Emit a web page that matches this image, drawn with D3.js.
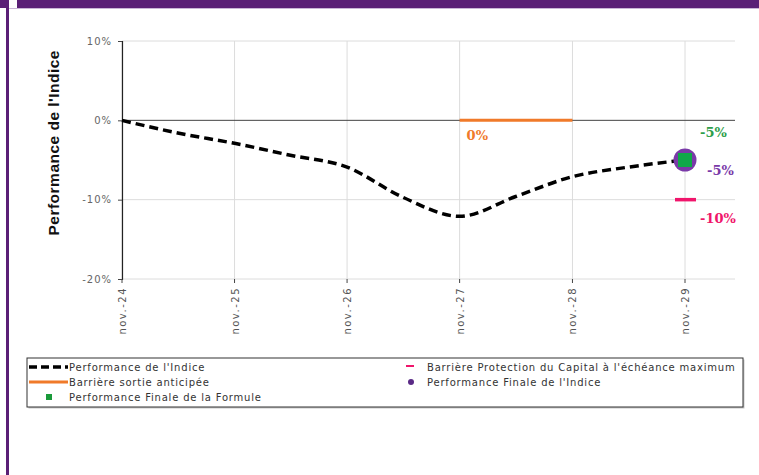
<!DOCTYPE html>
<html><head><meta charset="utf-8">
<script src="https://cdn.jsdelivr.net/npm/d3@7"></script>
<style>
html,body{margin:0;padding:0;background:#fff;}
svg{display:block;}
</style></head>
<body>
<svg id="c" width="759" height="475"></svg>
<script>
// ---- data ----
const indexDates = ["2024-11","2025-05","2025-11","2026-05","2026-11","2027-05","2027-11","2028-05","2028-11","2029-05","2029-11"];
const indexValues = [0, -1.6, -2.9, -4.4, -5.9, -9.7, -12.1, -9.6, -7.1, -5.9, -5.0];
const barrierDates = ["2027-11","2028-11"];
const barrierValues = [0, 0];
const protectionDate = "2029-11";
const protectionValue = -10;
const finalIndexValue = -5;
const finalFormulaValue = -5;
const yTicks = [10, 0, -10, -20];
const xTickLabels = ["nov.-24","nov.-25","nov.-26","nov.-27","nov.-28","nov.-29"];
const xTickDates = ["2024-11","2025-11","2026-11","2027-11","2028-11","2029-11"];
const legendItems = ["Performance de l'Indice","Barrière Protection du Capital à l'échéance maximum","Barrière sortie anticipée","Performance Finale de l'Indice","Performance Finale de la Formule"];

const parse = d3.timeParse("%Y-%m");
const svg = d3.select("#c");
const font = "'DejaVu Sans', Verdana, sans-serif";

// frame
svg.append("rect").attr("x",0).attr("y",0).attr("width",759).attr("height",8).attr("fill","#5a1f76");
svg.append("rect").attr("x",6).attr("y",0).attr("width",3).attr("height",475).attr("fill","#5a1f76");
svg.append("rect").attr("x",9).attr("y",0).attr("width",8).attr("height",8).attr("fill","#fff");
svg.append("rect").attr("x",9).attr("y",8).attr("width",750).attr("height",1).attr("fill","#c9b5d6");

const x = d3.scaleTime().domain([parse("2024-11"), parse("2029-11")]).range([122, 685]);
const y = d3.scaleLinear().domain([-20, 10]).range([279, 41]);
const plotRight = 735;

// gridlines
const g = svg.append("g");
g.selectAll(".vg").data(xTickDates).join("line")
  .attr("x1", d=>x(parse(d))).attr("x2", d=>x(parse(d)))
  .attr("y1", y(10)).attr("y2", y(-20))
  .attr("stroke","#dcdcdc").attr("stroke-width",1);
g.selectAll(".hg").data(yTicks.filter(d=>d!==0)).join("line")
  .attr("x1",122).attr("x2",plotRight)
  .attr("y1", d=>y(d)).attr("y2", d=>y(d))
  .attr("stroke","#dcdcdc").attr("stroke-width",1);
// zero line
g.append("line").attr("x1",122).attr("x2",plotRight).attr("y1",y(0)).attr("y2",y(0))
  .attr("stroke","#444").attr("stroke-width",1);

// y axis
const yAxis = d3.axisLeft(y).tickValues(yTicks).tickSize(4).tickFormat(d=>d+"%");
const ya = svg.append("g").attr("transform","translate(122,0)").call(yAxis);
ya.select(".domain").attr("stroke","#222").attr("stroke-width",1.2);
ya.selectAll(".tick line").attr("stroke","#444");
ya.selectAll(".tick text").attr("font-family",font).attr("font-size",10).attr("letter-spacing","1px")
  .attr("fill","#666").attr("x",-10);

// x axis labels
const xa = svg.append("g").attr("transform","translate(0,279)");
xa.selectAll("line").data(xTickDates).join("line")
  .attr("x1", d=>x(parse(d))).attr("x2", d=>x(parse(d))).attr("y1",0).attr("y2",4)
  .attr("stroke","#444");
xa.selectAll("text").data(xTickDates).join("text")
  .attr("transform", d=>`translate(${x(parse(d))+4},8) rotate(-90)`)
  .attr("text-anchor","end")
  .attr("font-family",font).attr("font-size",10).attr("letter-spacing","1.5px").attr("fill","#555")
  .text((d,i)=>xTickLabels[i]);

// y title
svg.append("text").attr("transform","translate(59,143) rotate(-90)")
  .attr("text-anchor","middle").attr("font-family","'Liberation Sans', Arial, sans-serif")
  .attr("font-weight","bold").attr("font-size",15.5).attr("fill","#111")
  .attr("textLength",185).attr("lengthAdjust","spacing")
  .text("Performance de l'Indice");

// barrier sortie anticipée
const line = d3.line().x(d=>x(d[0])).y(d=>y(d[1]));
svg.append("path").datum(barrierDates.map((d,i)=>[parse(d),barrierValues[i]]))
  .attr("d",line).attr("stroke","#f07a2a").attr("stroke-width",3).attr("fill","none");
svg.append("text").attr("x",x(parse(barrierDates[0]))+7).attr("y",y(0)+20)
  .attr("font-family","'DejaVu Serif', serif").attr("font-weight","bold").attr("font-size",13)
  .attr("fill","#f07a2a").text(barrierValues[0]+"%");

// index curve
const curve = d3.line().x(d=>x(d[0])).y(d=>y(d[1])).curve(d3.curveMonotoneX);
svg.append("path").datum(indexDates.map((d,i)=>[parse(d),indexValues[i]]))
  .attr("d",curve).attr("stroke","#000").attr("stroke-width",3.5)
  .attr("stroke-dasharray","9,5").attr("fill","none");

// protection barrier
const px = x(parse(protectionDate));
svg.append("line").attr("x1",px-10).attr("x2",px+11).attr("y1",y(protectionValue)).attr("y2",y(protectionValue))
  .attr("stroke","#f0156b").attr("stroke-width",3.5);
svg.append("text").attr("x",px+15).attr("y",y(protectionValue)+23)
  .attr("font-family","'DejaVu Serif', serif").attr("font-weight","bold").attr("font-size",13)
  .attr("fill","#f0156b").text(protectionValue+"%");

// final index (purple circle) and formula (green square)
svg.append("circle").attr("cx",px).attr("cy",y(finalIndexValue)).attr("r",11.5).attr("fill","#7a3aa8");
svg.append("rect").attr("x",px-7).attr("y",y(finalFormulaValue)-7).attr("width",14).attr("height",14).attr("fill","#10a84a");
svg.append("text").attr("x",px+22).attr("y",y(finalIndexValue)+15)
  .attr("font-family","'DejaVu Serif', serif").attr("font-weight","bold").attr("font-size",13)
  .attr("fill","#7a3aa8").text(finalIndexValue+"%");
svg.append("text").attr("x",px+15).attr("y",y(finalFormulaValue)-23)
  .attr("font-family","'DejaVu Serif', serif").attr("font-weight","bold").attr("font-size",13)
  .attr("fill","#2e9e4a").text(finalFormulaValue+"%");

// legend
const lg = svg.append("g");
lg.append("rect").attr("x",28.5).attr("y",359.5).attr("width",716).attr("height",49).attr("fill","#c8c8c8");
lg.append("rect").attr("x",27).attr("y",358).attr("width",716).attr("height",49).attr("fill","#fff").attr("stroke","#333").attr("stroke-width",1);
const lf = {fam:font, size:10, fill:"#333"};
function ltext(tx,ty,t){lg.append("text").attr("x",tx).attr("y",ty).attr("font-family",lf.fam).attr("font-size",lf.size)
  .attr("letter-spacing","0.8px").attr("fill",lf.fill).text(t);}
lg.append("line").attr("x1",29).attr("x2",68).attr("y1",367).attr("y2",367).attr("stroke","#000").attr("stroke-width",3.5).attr("stroke-dasharray","8,4");
ltext(69,370.5,legendItems[0]);
lg.append("line").attr("x1",406).attr("x2",414).attr("y1",366).attr("y2",366).attr("stroke","#f0156b").attr("stroke-width",2);
ltext(427,370.5,legendItems[1]);
lg.append("line").attr("x1",29).attr("x2",68).attr("y1",382).attr("y2",382).attr("stroke","#f07a2a").attr("stroke-width",3);
ltext(69,385.5,legendItems[2]);
lg.append("circle").attr("cx",411).attr("cy",382).attr("r",3).attr("fill","#5a2a86");
ltext(427,385.5,legendItems[3]);
lg.append("rect").attr("x",46).attr("y",394).attr("width",6).attr("height",6).attr("fill","#1a9a3a");
ltext(69,401,legendItems[4]);
</script>
</body></html>
